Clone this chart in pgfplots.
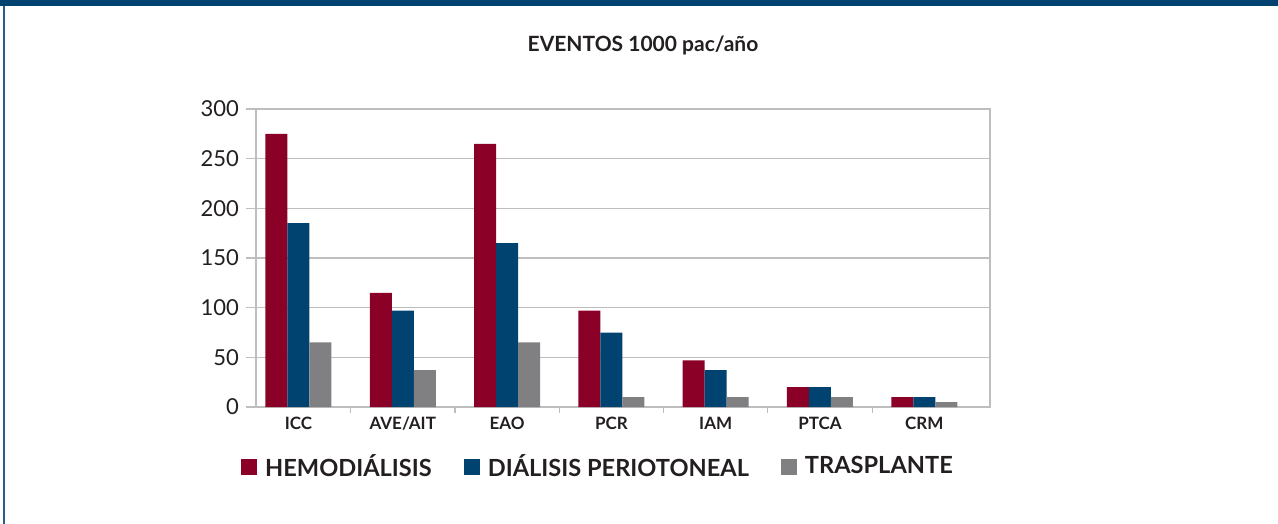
\documentclass[border=0pt]{standalone}
\usepackage{fontspec}
\setmainfont{Lato}
\usepackage{pgfplots}
\pgfplotsset{compat=1.18}
\definecolor{cred}{RGB}{139,0,39}
\definecolor{cblue}{RGB}{0,67,112}
\definecolor{cgray}{RGB}{128,128,131}
\definecolor{cgrid}{RGB}{190,190,190}
\definecolor{ctext}{RGB}{35,31,32}
\begin{document}
\begin{tikzpicture}[x=1pt,y=1pt]
\useasboundingbox (0,0) rectangle (639,262);
\fill[cblue] (0,259) rectangle (639,262);
\fill[cblue!85] (1.5,0) rectangle (2.4,259);
\node[font=\bfseries\fontsize{10.5}{12}\selectfont, text=ctext] at (321.5,239.5) {EVENTOS 1000 pac/año};
\begin{axis}[
  at={(128pt,58.5pt)}, anchor=south west,
  scale only axis, width=367pt, height=149pt,
  ybar=0pt, bar width=11pt,
  xmin=-0.407, xmax=6.63, ymin=0, ymax=300,
  xtick={0,...,6}, xticklabels={ICC,AVE/AIT,EAO,PCR,IAM,PTCA,CRM},
  minor xtick={0.5,1.5,...,5.5},
  ytick={0,50,...,300},
  xtick pos=bottom, ytick pos=left,
  /pgf/number format/assume math mode=true,
  ymajorgrids, major grid style={cgrid, line width=0.6pt},
  axis line style={cgrid, line width=0.8pt},
  tick align=outside, major tick length=5pt, minor tick length=3pt,
  major x tick style={draw=none},
  minor x tick style={cgrid, line width=0.6pt},
  major y tick style={cgrid, line width=0.6pt},
  xticklabel style={font=\bfseries\fontsize{8.5}{10}\selectfont, text=ctext, yshift=3.5pt},
  yticklabel style={font=\fontsize{11}{12}\selectfont, text=ctext},
  legend columns=3,
  legend style={draw=none, fill=none, at={(0.47,-0.2)}, anchor=center,
    font=\bfseries\fontsize{11.8}{13}\selectfont, text=ctext,
    /tikz/every even column/.append style={column sep=12pt},
    nodes={inner xsep=4pt}},
  legend image code/.code={\fill[#1] (0pt,-4pt) rectangle (8pt,4pt);},
]
\addplot[fill=cred, draw=none] coordinates {(0,275) (1,115) (2,265) (3,97) (4,47) (5,20) (6,10)};
\addplot[fill=cblue, draw=none] coordinates {(0,185) (1,97) (2,165) (3,75) (4,37) (5,20) (6,10)};
\addplot[fill=cgray, draw=none] coordinates {(0,65) (1,37) (2,65) (3,10) (4,10) (5,10) (6,5)};
\legend{HEMODIÁLISIS, DIÁLISIS PERIOTONEAL, TRASPLANTE}
\end{axis}
\end{tikzpicture}
\end{document}
